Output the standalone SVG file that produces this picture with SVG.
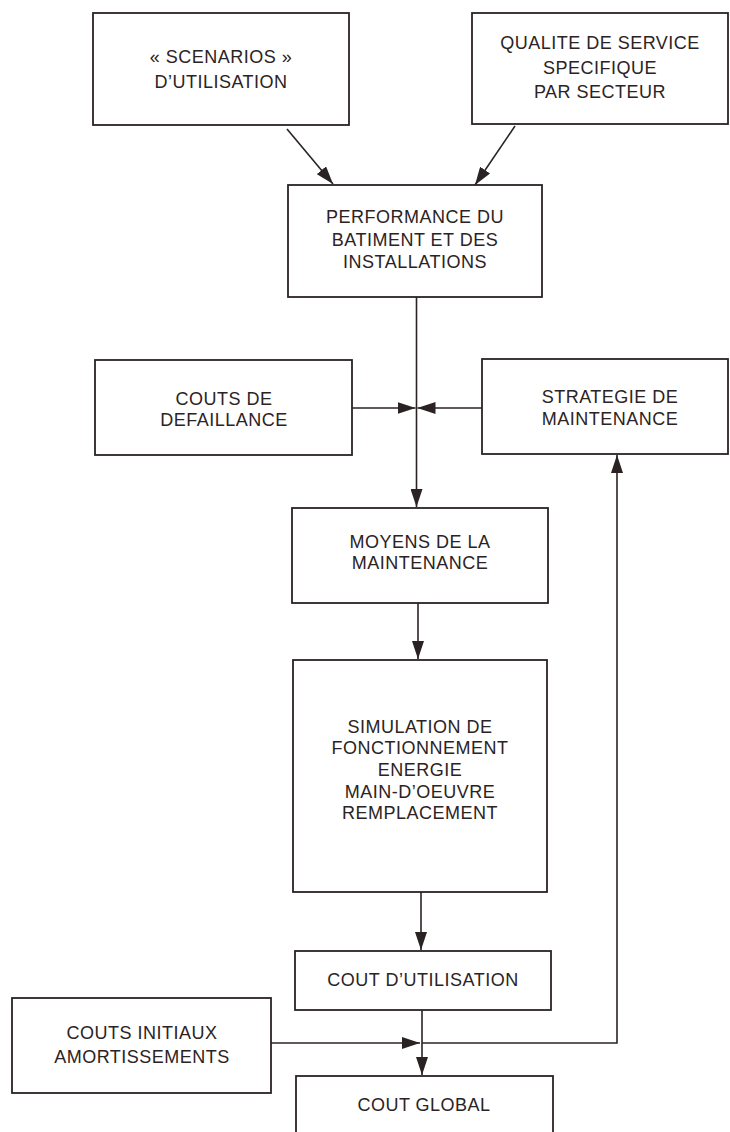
<svg xmlns="http://www.w3.org/2000/svg" width="730" height="1132" viewBox="0 0 730 1132">
<defs>
<style>
.box{fill:#ffffff;stroke:#2b2323;stroke-width:1.8}
.lbl{font-family:"Liberation Sans",Arial,sans-serif;font-size:18px;letter-spacing:0.5px;fill:#2b2323;text-anchor:middle}
.ln{fill:none;stroke:#2b2323;stroke-width:1.6}
</style>
<marker id="ah" markerUnits="userSpaceOnUse" markerWidth="18" markerHeight="12" refX="18" refY="6" orient="auto">
<path d="M0,0 L18,6 L0,12 Z" fill="#2b2323"/>
</marker>
</defs>
<rect width="730" height="1132" fill="#ffffff"/>

<g id="connectors">
<line class="ln" x1="287" y1="129" x2="333" y2="184" marker-end="url(#ah)"/>
<line class="ln" x1="515" y1="126" x2="475" y2="185" marker-end="url(#ah)"/>
<line class="ln" x1="416.5" y1="297" x2="416.5" y2="507" marker-end="url(#ah)"/>
<line class="ln" x1="352" y1="408" x2="415.5" y2="408" marker-end="url(#ah)"/>
<line class="ln" x1="482" y1="408" x2="417.5" y2="408" marker-end="url(#ah)"/>
<line class="ln" x1="418" y1="603" x2="418" y2="659" marker-end="url(#ah)"/>
<line class="ln" x1="421" y1="892" x2="421" y2="950" marker-end="url(#ah)"/>
<line class="ln" x1="422" y1="1010" x2="422" y2="1075" marker-end="url(#ah)"/>
<line class="ln" x1="271" y1="1043" x2="420" y2="1043" marker-end="url(#ah)"/>
<path class="ln" d="M422,1043 H617 V455" marker-end="url(#ah)"/>
</g>

<g id="scenarios">
<rect class="box" x="93" y="13" width="256" height="112"/>
<text class="lbl" x="221" y="63">« SCENARIOS »</text>
<text class="lbl" x="221" y="88">D’UTILISATION</text>
</g>

<g id="qualite">
<rect class="box" x="472" y="13" width="256" height="111"/>
<text class="lbl" x="600" y="49">QUALITE DE SERVICE</text>
<text class="lbl" x="600" y="74">SPECIFIQUE</text>
<text class="lbl" x="600" y="98">PAR SECTEUR</text>
</g>

<g id="performance">
<rect class="box" x="288" y="185" width="254" height="112"/>
<text class="lbl" x="415" y="223">PERFORMANCE DU</text>
<text class="lbl" x="415" y="246">BATIMENT ET DES</text>
<text class="lbl" x="415" y="268">INSTALLATIONS</text>
</g>

<g id="defaillance">
<rect class="box" x="95" y="360" width="257" height="95"/>
<text class="lbl" x="224" y="405">COUTS DE</text>
<text class="lbl" x="224" y="426">DEFAILLANCE</text>
</g>

<g id="strategie">
<rect class="box" x="482" y="359" width="246" height="95"/>
<text class="lbl" x="610" y="403">STRATEGIE DE</text>
<text class="lbl" x="610" y="425">MAINTENANCE</text>
</g>

<g id="moyens">
<rect class="box" x="292" y="508" width="256" height="95"/>
<text class="lbl" x="420" y="548">MOYENS DE LA</text>
<text class="lbl" x="420" y="569">MAINTENANCE</text>
</g>

<g id="simulation">
<rect class="box" x="293" y="660" width="254" height="232"/>
<text class="lbl" x="420" y="733">SIMULATION DE</text>
<text class="lbl" x="420" y="754">FONCTIONNEMENT</text>
<text class="lbl" x="420" y="776">ENERGIE</text>
<text class="lbl" x="420" y="798">MAIN-D’OEUVRE</text>
<text class="lbl" x="420" y="819">REMPLACEMENT</text>
</g>

<g id="cout-utilisation">
<rect class="box" x="295" y="951" width="256" height="59"/>
<text class="lbl" x="423" y="986">COUT D’UTILISATION</text>
</g>

<g id="couts-initiaux">
<rect class="box" x="12" y="998" width="259" height="95"/>
<text class="lbl" x="142" y="1039">COUTS INITIAUX</text>
<text class="lbl" x="142" y="1063">AMORTISSEMENTS</text>
</g>

<g id="cout-global">
<rect class="box" x="296" y="1076" width="257" height="70"/>
<text class="lbl" x="424" y="1111">COUT GLOBAL</text>
</g>
</svg>
